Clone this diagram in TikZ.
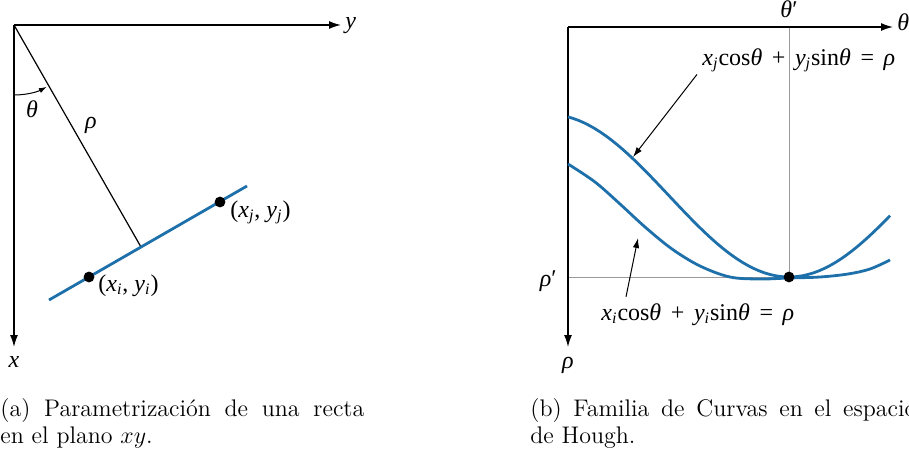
\documentclass[tikz,border=0pt]{standalone}
\usepackage{fontspec}
\newfontfamily\figfont{Liberation Serif}
\usetikzlibrary{arrows.meta}
\definecolor{curveblue}{RGB}{30,112,170}
\newcommand{\vi}[1]{\textit{#1}}
\newcommand{\vsub}[1]{\textsubscript{\textit{#1}}}
\newcommand{\opgap}{\hspace{0.4em}}

\begin{document}
\begin{tikzpicture}[x=0.5pt,y=-0.5pt,>={Latex[length=6pt,width=4pt]},
  every node/.style={inner sep=0pt,font=\figfont\fontsize{12}{14}\selectfont},
  axis/.style={->,line width=0.7pt},
  guide/.style={gray!80,line width=0.5pt},
  curve/.style={curveblue,line width=1.4pt},
  pointer/.style={-{Latex[length=5pt,width=3.2pt]},line width=0.5pt},
  caption/.style={font=\rmfamily\fontsize{12}{13.5}\selectfont,anchor=north west,align=justify}]
\useasboundingbox (0,0) rectangle (909,455);

% ==================== LEFT: LINE IN THE xy PLANE ====================
\coordinate (O) at (14,25);
\coordinate (yend) at (341,25);
\coordinate (xend) at (14,347);
\draw[axis] (O) -- (yend);
\draw[axis] (O) -- (xend);
\node[anchor=base west] (ylab) at (345,28) {\vi{y}};
\node[anchor=base] (xlab) at (14,367) {\vi{x}};
% normal rho and the line
\coordinate (F) at (141,247);
\coordinate (L1) at (49,300);
\coordinate (L2) at (247,186);
\draw[line width=0.6pt] (O) -- (F);
\draw[curve] (L1) -- (L2);
% angle theta
\draw[-{Latex[length=4pt,width=2.6pt]},line width=0.5pt] (O) ++(90:70) arc[start angle=90,end angle=62,radius=70];
\node[anchor=base] (thlab) at (32,117) {\vi{θ}};
\node[anchor=base] (rholab) at (91,128) {\vi{ρ}};
% the two points
\coordinate (Pi) at (89,277);
\coordinate (Pj) at (220,202);
\fill (Pi) circle[radius=2.7pt];
\fill (Pj) circle[radius=2.7pt];
\node[anchor=base west] (pilab) at (98,291) {(\vi{x}\vsub{i}, \vi{y}\vsub{i})};
\node[anchor=base west] (pjlab) at (230,217) {(\vi{x}\vsub{j}, \vi{y}\vsub{j})};

% ==================== RIGHT: HOUGH SPACE ====================
\coordinate (O2) at (568,27);
\coordinate (thend) at (893,27);
\coordinate (rhoend) at (568,347);
\coordinate (T) at (789,27);
\coordinate (R) at (568,277);
\coordinate (P) at (789,277);
% guide lines for theta' and rho'
\draw[guide] (T) -- (P);
\draw[guide] (R) -- (P);
\draw[axis] (O2) -- (thend);
\draw[axis] (O2) -- (rhoend);
\node[anchor=base west] (thaxlab) at (897,31) {\vi{θ}};
\node[anchor=base] (rhoaxlab) at (568,368) {\vi{ρ}};
\node[anchor=base] (thp) at (789,18) {\vi{θ}′};
\node[anchor=base east] (rhop) at (557,286) {\vi{ρ}′};
% sinusoids
\draw[curve] plot[domain=568:890,samples=60] (\x,{195.7+81.3*cos(0.75*(\x-789))});
\draw[curve] plot[smooth,tension=0.55] coordinates {(568,164) (595,182) (620,204) (645,227) (672,249) (700,266) (730,277) (760,279) (789,278) (820,277) (848,274) (870,269) (890,260)};
\fill (P) circle[radius=2.7pt];
% equations and pointers
\node[anchor=base west] (eqj) at (702,65) {\vi{x}\vsub{j}cos\vi{θ}\opgap+\opgap\vi{y}\vsub{j}sin\vi{θ}\opgap=\opgap\vi{ρ}};
\node[anchor=base west] (eqi) at (601,320) {\vi{x}\vsub{i}cos\vi{θ}\opgap+\opgap\vi{y}\vsub{i}sin\vi{θ}\opgap=\opgap\vi{ρ}};
\coordinate (tipj) at (633,157);
\coordinate (tipi) at (638,238);
\draw[pointer] ([shift={(-5,2)}]eqj.south west) -- (tipj);
\draw[pointer] ([xshift=12.5pt,yshift=3pt]eqi.north west) -- (tipi);

% ==================== CAPTIONS ====================
\node[caption,text width=182pt] (capa) at (0,398) {(a) Parametrización de una recta\linebreak en el plano $xy$.};
\node[caption,text width=193pt] (capb) at (530,398) {(b) Familia de Curvas en el espacio\linebreak de Hough.};
\end{tikzpicture}
\end{document}
